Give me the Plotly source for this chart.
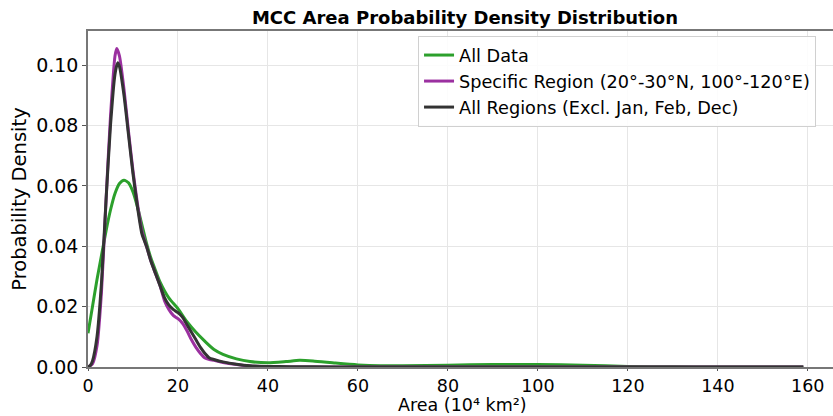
import plotly.graph_objects as go

# ---- data ----
all_x = [0, 1, 2, 3, 4, 5, 6, 7, 8, 9, 10, 11, 12, 13, 14, 15, 16, 18, 20, 22, 24, 26, 28, 30, 33, 36, 40, 44, 47, 50, 55, 60, 65, 70, 80, 90, 95, 100, 110, 120, 130, 140, 150, 159]
all_y = [0.0112, 0.020, 0.029, 0.037, 0.045, 0.052, 0.0575, 0.0608, 0.0619, 0.0610, 0.0580, 0.0530, 0.0470, 0.0410, 0.0360, 0.0320, 0.0282, 0.0228, 0.0193, 0.0150, 0.0115, 0.0085, 0.0058, 0.0042, 0.0027, 0.0018, 0.0014, 0.0018, 0.0022, 0.0020, 0.0013, 0.0007, 0.0004, 0.0004, 0.0006, 0.0008, 0.0008, 0.0008, 0.0006, 0.0002, 0.00005, 0.0, 0.0, 0.0]

reg_x = [0, 1, 2, 3, 4, 5, 6, 6.4, 7, 8, 9, 10, 11, 12, 13, 14, 15, 16, 17, 18, 19, 20, 21, 22, 23, 24, 25, 26, 27, 28, 30, 33, 36, 40, 50, 60, 80, 100, 120, 140, 159]
reg_y = [0.0, 0.001, 0.007, 0.025, 0.055, 0.083, 0.103, 0.1055, 0.103, 0.092, 0.078, 0.065, 0.054, 0.045, 0.040, 0.035, 0.031, 0.027, 0.022, 0.019, 0.017, 0.016, 0.0145, 0.012, 0.009, 0.0065, 0.0045, 0.003, 0.0025, 0.0022, 0.0015, 0.0008, 0.0003, 0.0001, 0.0, 0.0, 0.0, 0.0, 0.0, 0.0, 0.0]

exc_x = [0, 0.5, 1, 2, 3, 4, 5, 6, 6.6, 7, 8, 9, 10, 11, 12, 13, 14, 15, 16, 17, 18, 19, 20, 21, 22, 23, 24, 25, 26, 27, 28, 30, 33, 36, 40, 45, 50, 60, 80, 100, 120, 140, 159]
exc_y = [0.0, 0.0005, 0.002, 0.010, 0.028, 0.055, 0.080, 0.097, 0.1008, 0.0995, 0.090, 0.077, 0.064, 0.053, 0.044, 0.040, 0.035, 0.031, 0.027, 0.023, 0.0205, 0.019, 0.018, 0.0165, 0.014, 0.0115, 0.009, 0.0065, 0.0045, 0.003, 0.0025, 0.0017, 0.0009, 0.0004, 0.0002, 0.0001, 0.00005, 0.0, 0.0, 0.0, 0.0, 0.0, 0.0]

names = ["All Data", "Specific Region (20°-30°N, 100°-120°E)", "All Regions (Excl. Jan, Feb, Dec)"]
colors = ["#2ca02c", "#9b30a0", "#333333"]

x_ticks = [0, 20, 40, 60, 80, 100, 120, 140, 160]
y_ticks = [0.0, 0.02, 0.04, 0.06, 0.08, 0.10]

FONT = "DejaVu Sans"

fig = go.Figure()
for xs, ys, nm, c in zip([all_x, reg_x, exc_x], [all_y, reg_y, exc_y], names, colors):
    fig.add_trace(go.Scatter(x=xs, y=ys, mode="lines", name=nm,
                             line=dict(color=c, width=3, shape="spline", smoothing=0.6)))

fig.update_layout(
    width=833, height=416,
    margin=dict(l=88, r=0, t=31, b=49, autoexpand=False),
    paper_bgcolor="white", plot_bgcolor="white",
    font=dict(family=FONT, color="black"),
    title=dict(text="<b>MCC Area Probability Density Distribution</b>",
               font=dict(family=FONT, size=18, color="black"),
               x=465 / 833, xanchor="center", y=1 - 18 / 416, yanchor="middle", xref="container", yref="container"),
    legend=dict(x=0.443, y=0.985, xanchor="left", yanchor="top",
                bgcolor="rgba(255,255,255,0.85)", bordercolor="#d0d0d0", borderwidth=1,
                font=dict(family=FONT, size=17.7, color="black"), tracegroupgap=0),
    showlegend=True,
    annotations=[dict(text="Area (10⁴ km²)", xref="paper", yref="paper", x=(462 - 88) / 745, y=-(405 - 367) / 336,
                      xanchor="center", yanchor="middle", showarrow=False, borderpad=0,
                      font=dict(family=FONT, size=17.5, color="black"))],
)
fig.update_xaxes(range=[0, 165.6], tickvals=x_ticks, ticks="outside", ticklen=2, tickcolor="#555",
                 tickfont=dict(size=17.5),
                 showgrid=True, gridcolor="#e6e6e6", gridwidth=1, zeroline=False, automargin=False,
                 showline=True, linecolor="#777", linewidth=1.5, mirror=True)
fig.update_yaxes(range=[0, 0.1113], tickvals=y_ticks, tickformat=".2f", ticks="outside", ticklen=4, tickcolor="#555",
                 tickfont=dict(size=19), title=dict(text="Probability Density", font=dict(size=19.5), standoff=4),
                 showgrid=True, gridcolor="#e6e6e6", gridwidth=1, zeroline=False, automargin=False,
                 showline=True, linecolor="#777", linewidth=1.5, mirror=False)

fig.write_html("out.html")
